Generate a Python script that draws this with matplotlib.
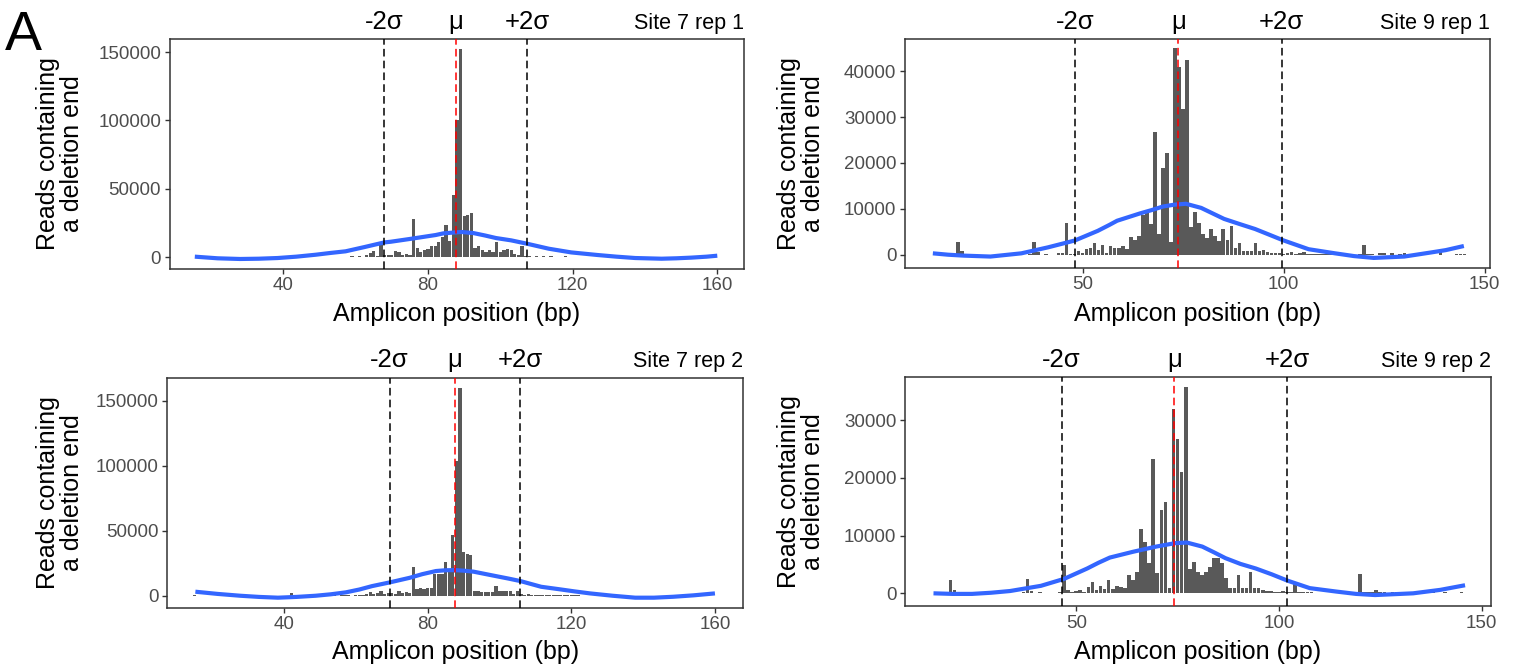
import numpy as np
import matplotlib
matplotlib.use("Agg")
import matplotlib.pyplot as plt
import matplotlib.transforms as mtransforms

plt.rcParams['font.family'] = ['Liberation Sans', 'DejaVu Sans']
plt.rcParams['lines.scale_dashes'] = False

# ---------------- data ----------------
# Site 7 rep 1 : counts at positions 15..160
s7r1_start = 15
s7r1_counts = [300, 0, 0, 100, 0, 0, 0, 200, 0, 0, 0, 0, 100, 0, 0, 0, 0, 0, 0, 200,
               0, 0, 0, 0, 0, 300, 0, 0, 0, 200, 0, 0, 300, 0, 0, 400, 0, 200, 0, 500,
               0, 300, 400,                                   # 15-57
               500, 1200, 300, 1000, 500, 1500, 3000, 4900, 1000,  # 58-66
               10400, 1500, 2000, 1500, 4900, 3600, 2000, 2500, 2000, 28000,  # 67-76
               6800, 3600, 5600, 6300, 8000, 8000, 11400, 15000, 23800, 12000,  # 77-86
               45600, 100000, 152000, 29900, 30800, 32500, 7000, 8000, 5600, 3600,  # 87-96
               5600, 3600, 11400, 3600, 5600, 6000, 5000, 2700, 2000, 8000,  # 97-106
               1000, 800, 600, 1000, 500, 700, 400, 900, 300, 600, 400, 800, 300, 500,  # 107-120
               200, 400, 200, 600, 200, 300, 0, 200, 0, 0, 100, 0, 0, 0, 100, 0, 0, 0,  # 121-138
               0, 0, 100, 0, 0, 0, 0, 0, 0, 0, 0, 0, 0, 0, 0, 0, 0, 0, 0, 0, 0, 0]  # 139-160
s7r1_curve_x = [15.5, 21.8, 28, 33.2, 38.4, 43.6, 48.9, 53, 57.2, 62.4, 67.9, 69.7, 74.9,
                82.1, 84.2, 87.4, 89.4, 92.6, 95.7, 98.8, 103, 107.3, 113.4, 119.6, 126.9,
                132.1, 137.3, 144.6, 148.7, 152.9, 157.1, 160]
s7r1_curve_y = [500, -700, -1200, -1000, -500, 500, 1900, 3200, 4400, 7500, 10900, 11400,
                13400, 16300, 17500, 18200, 18500, 17700, 16000, 14100, 12400, 10000, 6300,
                3600, 1700, 500, -500, -1000, -700, -200, 500, 1200]
s7r1_mu, s7r1_sigma = 87.6, 9.87

# Site 9 rep 1 : counts at positions 14..145
s9r1_start = 14
s9r1_counts = [0, 0, 0, 0, 0, 2700, 700, 0, 0, 200, 0, 0, 0, 0, 0, 0, 0, 0, 0, 0,   # 14-33
               0, 0, 0, 100, 2800, 500, 0, 200, 0, 0, 300, 300, 7000, 200, 100,     # 34-48
               900, 300, 1200, 1400, 2600, 1000, 2100, 400, 1900, 1400, 1500, 1900, 1200,  # 49-61
               3900, 3300, 4100, 8600, 9200, 6700, 26800, 4600, 18800, 22200, 2700,  # 62-72
               45000, 41000, 31700, 42400, 6100, 9200, 7000, 4600, 3600, 5700, 4100,  # 73-83
               3000, 5700, 3200, 6200, 1400, 2500, 900, 900, 900, 2500, 900, 1000, 600,  # 84-96
               400, 300, 400, 200, 300, 500, 200, 300, 500, 200, 100, 200, 100, 100,  # 97-110
               100, 100, 100, 100, 100, 100, 100, 0, 100, 2200, 100, 200, 0, 300, 300,  # 111-125
               0, 300, 0, 200, 300, 0, 0, 300, 0, 0, 0, 0, 0, 500, 0, 0, 0, 200, 200, 200]  # 126-145
s9r1_curve_x = [12.8, 16.6, 20.5, 27.1, 34.8, 41.4, 48.1, 53.8, 56.7, 58.6, 64.3, 67.1,
                70.0, 72.8, 75.7, 79.5, 85.2, 89.0, 92.9, 96.6, 99.7, 106.2, 112.8, 117.5,
                122.4, 130.0, 136.7, 140.3, 144.8]
s9r1_curve_y = [300, 0, -200, -400, 300, 1600, 3100, 5200, 6500, 7400, 9000, 9700, 10500,
                10900, 11100, 10200, 7800, 6700, 5600, 4300, 3200, 1200, 300, -300, -700,
                -400, 500, 1000, 1900]
s9r1_mu, s9r1_sigma = 73.8, 12.85

# Site 7 rep 2 : counts at positions 15..160
s7r2_start = 15
s7r2_counts = [200, 0, 0, 0, 0, 0, 0, 0, 100, 0, 0, 0, 0, 0, 0, 0, 0, 0, 0, 0,       # 15-34
               0, 0, 0, 0, 0, 0, 0, 2300, 0, 0, 0, 0, 0, 0, 200, 0, 0, 0, 0, 300,     # 35-54
               0, 200, 400, 300, 0, 600, 500, 800, 1200, 2600, 1000, 2000, 3600,     # 55-67
               1000, 1800, 2300, 1500, 3800, 2000, 2500, 2000, 21800, 4900, 5600,    # 68-78
               5000, 5600, 6000, 16700, 17000, 17000, 25700, 20000, 47000, 104000,   # 79-88
               160000, 34000, 32000, 31000, 3600, 3600, 3000, 3000, 3000, 3000,      # 89-98
               7400, 3600, 3600, 3600, 3600, 1500, 3800, 1000, 800, 1000, 600,       # 99-109
               800, 600, 500, 700, 400, 600, 300, 500, 300, 400, 200, 300, 200,     # 110-122
               0, 100, 0, 0, 0, 0, 0, 0, 0, 0, 0, 0, 0, 0, 0, 0, 0, 0, 0, 0, 0, 0,  # 123-144
               0, 0, 0, 0, 0, 0, 0, 0, 0, 0, 0, 0, 0, 0, 0, 0]                      # 145-160
s7r2_curve_x = [15.3, 21.5, 27.8, 33.0, 38.3, 43.5, 48.8, 53.0, 57.2, 61.0, 64.5, 69.5,
                75.0, 78.5, 82.3, 85.0, 87.5, 90.0, 92.8, 99.0, 102.5, 105.8, 111.6, 116.9,
                121.0, 125.2, 131.5, 137.8, 143.0, 148.3, 154.0, 160]
s7r2_curve_y = [3100, 1400, 0, -900, -1500, -900, 0, 1100, 2600, 4800, 7400, 10300, 13800,
                16600, 19000, 19600, 19700, 19300, 18500, 15100, 13200, 11300, 6900, 4900,
                3300, 1800, 0, -1500, -1500, -800, 300, 1800]
s7r2_mu, s7r2_sigma = 87.6, 9.1

# Site 9 rep 2 : counts at positions 14..146
s9r2_start = 14
s9r2_counts = [0, 0, 0, 0, 0, 2300, 600, 0, 0, 0, 0, 0, 0, 0, 0, 0, 0, 0, 0, 0,     # 14-33
               0, 0, 0, 300, 2400, 400, 0, 200, 0, 0, 0, 0, 300, 4900, 600,        # 34-48 (47 spike)
               300, 400, 600, 300, 1100, 1900, 600, 1200, 700, 2300, 700, 1200, 1100,  # 49-61
               900, 3200, 2300, 3700, 11100, 8900, 5200, 23300, 3500, 14400, 15900,  # 62-72
               1000, 31900, 26700, 21000, 35700, 4300, 5500, 3700, 3200, 3700,      # 73-82
               4600, 6200, 6200, 5200, 2600, 900, 900, 3200, 900, 900, 3700, 900,   # 83-94
               900, 600, 400, 400, 300, 300, 400, 200, 300, 1700, 300, 200, 300,    # 95-107
               200, 100, 100, 100, 100, 0, 100, 0, 100, 0, 0, 0, 3300, 200, 300,    # 108-122
               300, 600, 200, 300, 0, 200, 300, 0, 0, 0, 0, 0, 0, 0, 0, 400, 0, 0,  # 123-140
               300, 0, 0, 0, 300, 0]                                                # 141-146
s9r2_curve_x = [14.8, 19.5, 24.3, 29.0, 33.7, 41.3, 47.0, 52.7, 55.5, 58.3, 64.0, 69.7,
                74.4, 77.3, 81.1, 84.0, 86.8, 90.5, 94.3, 98.2, 102.1, 107.6, 114.2, 119.0,
                123.7, 133.1, 139.8, 145.9]
s9r2_curve_y = [0, -100, -100, 100, 400, 1300, 2500, 4300, 5300, 6200, 7200, 8100, 8700,
                8800, 8100, 7100, 6100, 5100, 4300, 3300, 2200, 900, 300, -100, -300, 0, 600,
                1400]
s9r2_mu, s9r2_sigma = 74.2, 13.9

titles = ["Site 7 rep 1", "Site 9 rep 1", "Site 7 rep 2", "Site 9 rep 2"]
x_ticks_s7 = [40, 80, 120, 160]
x_ticks_s9 = [50, 100, 150]
y_ticks_s7 = [0, 50000, 100000, 150000]
y_ticks_s9r1 = [0, 10000, 20000, 30000, 40000]
y_ticks_s9r2 = [0, 10000, 20000, 30000]

# ---------------- layout ----------------
W, H = 1519, 671
fig = plt.figure(figsize=(W / 100, H / 100), dpi=100)
fig.patch.set_facecolor('white')


def rect(l, r, t, b):
    return [l / W, 1 - b / H, (r - l) / W, (b - t) / H]


panels = [
    dict(rect=rect(169.5, 744.4, 39.3, 268.7), start=s7r1_start, counts=s7r1_counts,
         cx=s7r1_curve_x, cy=s7r1_curve_y, mu=s7r1_mu, sd=s7r1_sigma,
         xlim=(8.5, 167.5), ylim=(-8300, 159300), xt=x_ticks_s7, yt=y_ticks_s7,
         title=titles[0], ylab_x=60, xlab_y=314),
    dict(rect=rect(904.7, 1490.0, 39.0, 267.7), start=s9r1_start, counts=s9r1_counts,
         cx=s9r1_curve_x, cy=s9r1_curve_y, mu=s9r1_mu, sd=s9r1_sigma,
         xlim=(5.8, 151.3), ylim=(-2830, 47000), xt=x_ticks_s9, yt=y_ticks_s9r1,
         title=titles[1], ylab_x=801, xlab_y=314),
    dict(rect=rect(167.0, 743.3, 377.7, 607.7), start=s7r2_start, counts=s7r2_counts,
         cx=s7r2_curve_x, cy=s7r2_curve_y, mu=s7r2_mu, sd=s7r2_sigma,
         xlim=(7.4, 167.9), ylim=(-9200, 167700), xt=x_ticks_s7, yt=y_ticks_s7,
         title=titles[2], ylab_x=60, xlab_y=652),
    dict(rect=rect(904.7, 1491.0, 377.0, 606.3), start=s9r2_start, counts=s9r2_counts,
         cx=s9r2_curve_x, cy=s9r2_curve_y, mu=s9r2_mu, sd=s9r2_sigma,
         xlim=(7.7, 152.3), ylim=(-2250, 37500), xt=x_ticks_s9, yt=y_ticks_s9r2,
         title=titles[3], ylab_x=801, xlab_y=652),
]

BAR = '#595959'
BLUE = '#3366FF'
dash = (0, (5.5, 3.0))

for p in panels:
    ax = fig.add_axes(p['rect'])
    pos = np.arange(p['start'], p['start'] + len(p['counts']))
    ax.bar(pos, p['counts'], width=0.9, color=BAR, linewidth=0, zorder=2)
    ax.plot(p['cx'], p['cy'], color=BLUE, lw=3.0, solid_capstyle='butt',
            solid_joinstyle='round', zorder=3)
    mu, sd = p['mu'], p['sd']
    for xv, col in [(mu - 2 * sd, 'black'), (mu, 'red'), (mu + 2 * sd, 'black')]:
        ax.axvline(xv, color=col, lw=1.1, linestyle=dash, zorder=4)
    ax.set_xlim(*p['xlim'])
    ax.set_ylim(*p['ylim'])
    ax.set_xticks(p['xt'])
    ax.set_yticks(p['yt'])
    ax.set_yticklabels([str(v) for v in p['yt']])
    ax.tick_params(axis='both', direction='out', length=3.5, width=1.0, color='#333333',
                   labelcolor='#4D4D4D', labelsize=13.5, pad=2.5)
    for s in ax.spines.values():
        s.set_color('#333333')
        s.set_linewidth(1.1)
    trans = mtransforms.blended_transform_factory(ax.transData, ax.transAxes)
    for xv, lab in [(mu - 2 * sd, '-2σ'), (mu, 'μ'), (mu + 2 * sd, '+2σ')]:
        ax.text(xv, 1.045, lab, transform=trans, ha='center', va='baseline',
                fontsize=18.5, color='black')
    ax.text(1.0, 1.045, p['title'], transform=ax.transAxes, ha='right', va='baseline',
            fontsize=15.5, color='black')
    l, b, w, h = p['rect']
    fig.text(l + w / 2, 1 - p['xlab_y'] / H, 'Amplicon position (bp)', ha='center',
             va='center', fontsize=18)
    fig.text(p['ylab_x'] / W, b + h / 2, 'Reads containing\na deletion end', ha='center',
             va='center', rotation=90, fontsize=18, linespacing=1.0)

fig.text(5 / W, 1 - 10 / H, 'A', ha='left', va='top', fontsize=40)

fig.savefig('out.png', dpi=100, facecolor='white')
